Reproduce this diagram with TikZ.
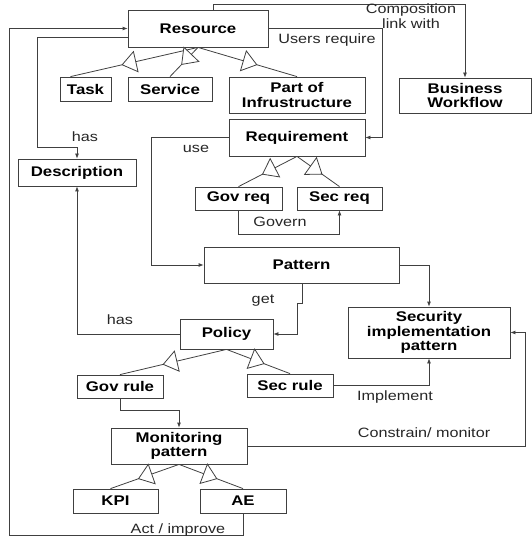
\documentclass[tikz,border=0pt]{standalone}
\usepackage{fontspec}
\setmainfont{Liberation Sans}[FakeStretch=1.2]
\usetikzlibrary{arrows.meta,positioning,calc,decorations.markings}

\tikzset{
  box/.style={draw=black!75, line width=0.8pt, inner sep=0pt, align=center,
    font=\bfseries\fontsize{14}{14.5}\selectfont},
  lab/.style={font=\fontsize{13.5}{15}\selectfont, align=center, text=black!85},
  link/.style={draw=black!75, line width=0.8pt, -{Latex[length=5pt,width=4pt]}},
  isa/.style={draw=black!75, line width=0.8pt, decoration={markings,
    mark=at position 0.6 with {\arrow{Triangle[length=15pt,width=22pt,fill=white,line width=0.8pt]}}},
    postaction={decorate}}
}

\begin{document}
\begin{tikzpicture}[x=1pt, y=-1pt]
  \useasboundingbox (0,0) rectangle (531,537);

  % boxes
  \node[box, minimum width=140pt, minimum height=37pt] (res) at (198,28.5) {Resource};
  \node[box, minimum width=132pt, minimum height=35pt] (bw) at (465,95.5) {Business\\Workflow};
  \node[box, minimum width=51pt, minimum height=24pt] (task) at (85.5,89) {Task};
  \node[box, minimum width=84pt, minimum height=24pt] (serv) at (170,89) {Service};
  \node[box, minimum width=136pt, minimum height=36pt] (infra) at (297,95) {Part of\\Infrustructure};
  \node[box, minimum width=136pt, minimum height=37pt] (req) at (297,137.5) {Requirement};
  \node[box, minimum width=118pt, minimum height=27pt] (desc) at (77,172.5) {Description};
  \node[box, minimum width=87pt, minimum height=23pt] (govreq) at (238.5,198.5) {Gov req};
  \node[box, minimum width=85pt, minimum height=23pt] (secreq) at (339.5,198.5) {Sec req};
  \node[box, minimum width=195pt, minimum height=36pt] (pat) at (301.5,265) {Pattern};
  \node[box, minimum width=162pt, minimum height=51pt] (sec) at (429,332.5) {Security\\implementation\\pattern};
  \node[box, minimum width=93pt, minimum height=30pt] (pol) at (226.5,334) {Policy};
  \node[box, minimum width=86pt, minimum height=23pt] (govrule) at (120,386.5) {Gov rule};
  \node[box, minimum width=86pt, minimum height=23pt] (secrule) at (290,385.5) {Sec rule};
  \node[box, minimum width=136pt, minimum height=36pt] (mon) at (179,446) {Monitoring\\pattern};
  \node[box, minimum width=85pt, minimum height=24pt] (kpi) at (115.5,501) {KPI};
  \node[box, minimum width=86pt, minimum height=24pt] (ae) at (243,501) {AE};

  % generalisations
  \draw[isa] (res.south) -- ([xshift=-15pt]task.north);
  \draw[isa] (res.south) -- (serv.north);
  \draw[isa] (res.south) -- (infra.north);
  \draw[isa] (req.south) -- (govreq.north);
  \draw[isa] (req.south) -- (secreq.north);
  \draw[isa] (pol.south) -- (govrule.north);
  \draw[isa] (pol.south) -- (secrule.north);
  \draw[isa] (mon.south) -- ([xshift=-5pt]kpi.north);
  \draw[isa] (mon.south) -- (ae.north);

  % links
  \draw[link] ([xshift=15pt]res.north) -- (213,4) -| (bw.north);
  \draw[link] (res.east) -- (382,28.5) |- (req.east);
  \draw[link] ([yshift=-8.5pt]res.west) -- (37,37) -- (37,147) -- (77,147) -- (desc.north);
  \draw[link] (ae.south) -- (243,535) -- (9,535) -- (9,28.5) -- (res.west);
  \draw[link] (req.west) -- (151,137.5) |- (pat.west);
  \draw[link] ([xshift=-0.5pt]govreq.south) -- (238,234) -| (secreq.south);
  \draw[link] (pat.east) -| (sec.north);
  \draw[link] ([xshift=0.5pt]pat.south) -- (302,303) -- (297,303) |- (pol.east);
  \draw[link] (pol.west) -| (desc.south);
  \draw[link] (secrule.east) -| (sec.south);
  \draw[link] (govrule.south) -- (120,410) -| (mon.north);
  \draw[link] (mon.east) -- (525,446) |- (sec.east);

  % labels
  \node[lab] (lcomp) at (411,16) {Composition\\link with};
  \node[lab] (lusers) at (327,40) {Users require};
  \node[lab] (lhas) at (85,137) {has};
  \node[lab] (luse) at (196,149) {use};
  \node[lab] (lgovern) at (280,222) {Govern};
  \node[lab] (lget) at (263,301) {get};
  \node[lab] (lhastwo) at (120,320) {has};
  \node[lab] (limpl) at (395,397) {Implement};
  \node[lab] (lcons) at (424,433) {Constrain/ monitor};
  \node[lab] (lact) at (178,530) {Act / improve};
\end{tikzpicture}
\end{document}
